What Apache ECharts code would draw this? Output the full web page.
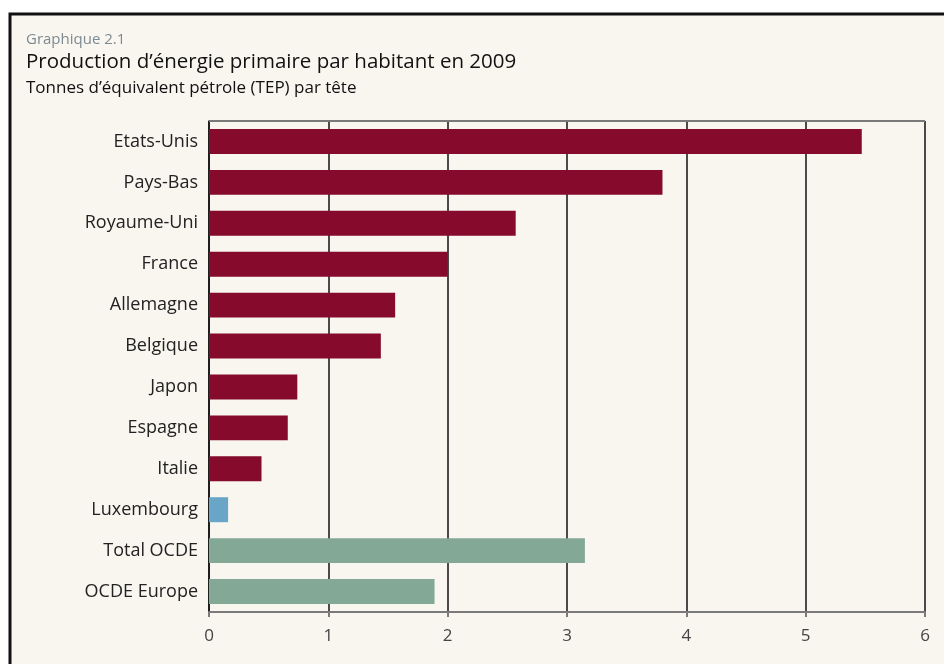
<!DOCTYPE html>
<html lang="fr">
<head>
<meta charset="UTF-8">
<script src="https://cdn.jsdelivr.net/npm/echarts@6/dist/echarts.min.js"></script>
<style>
  html, body { margin: 0; padding: 0; background: #ffffff; }
  #chart { width: 944px; height: 664px; }
</style>
</head>
<body>
<div id="chart"></div>
<script>
// pays, du haut vers le bas
var pays = ['Etats-Unis', 'Pays-Bas', 'Royaume-Uni', 'France', 'Allemagne', 'Belgique',
            'Japon', 'Espagne', 'Italie', 'Luxembourg', 'Total OCDE', 'OCDE Europe'];
// TEP par tête
var valeurs = [5.47, 3.80, 2.57, 2.00, 1.56, 1.44, 0.74, 0.66, 0.44, 0.16, 3.15, 1.89];
// groupe de couleur : 0 = pays, 1 = Luxembourg, 2 = agrégats OCDE
var groupes = [0, 0, 0, 0, 0, 0, 0, 0, 0, 1, 2, 2];
var couleurs = ['#850a2b', '#69a5c6', '#83a996'];
var ticks = [0, 1, 2, 3, 4, 5, 6];

var chart = echarts.init(document.getElementById('chart'));
var police = '"Open Sans", Roboto, sans-serif';

var option = {
  animation: false,
  backgroundColor: '#ffffff',
  textStyle: { fontFamily: police },
  graphic: [
    {
      type: 'rect', z: -10,
      shape: { x: 10, y: 14, width: 960, height: 700 },
      style: { fill: '#f9f6f0', stroke: '#111', lineWidth: 3 }
    },
    {
      type: 'text', left: 26, top: 32,
      style: { text: 'Graphique 2.1', fill: '#7d8a92', fontSize: 15, fontFamily: police }
    },
    {
      type: 'text', left: 26, top: 52,
      style: { text: 'Production d\u2019énergie primaire par habitant en 2009', fill: '#111', fontSize: 20.5, fontFamily: police }
    },
    {
      type: 'text', left: 26, top: 80,
      style: { text: 'Tonnes d\u2019équivalent pétrole (TEP) par tête', fill: '#111', fontSize: 17, fontFamily: police }
    },
    {
      // trait supérieur du cadre du graphique
      type: 'line', z: 5,
      shape: { x1: 209, y1: 121, x2: 925, y2: 121 },
      style: { stroke: '#7a7a7a', lineWidth: 2 }
    }
  ],
  grid: { left: 209, right: 19, top: 121, bottom: 52, containLabel: false },
  xAxis: {
    type: 'value',
    min: 0, max: 6, interval: 1,
    axisLine: { show: true, lineStyle: { color: '#7a7a7a', width: 2 } },
    axisTick: { show: true, length: 5, lineStyle: { color: '#7a7a7a', width: 2 } },
    axisLabel: {
      color: '#444', fontSize: 17, margin: 16,
      formatter: function (v) { return ticks.indexOf(v) >= 0 ? String(v) : ''; }
    },
    splitLine: { show: true, lineStyle: { color: '#111', width: 1.5 } }
  },
  yAxis: {
    type: 'category',
    data: pays,
    inverse: true,
    axisLine: { show: true, lineStyle: { color: '#111', width: 1.5 } },
    axisTick: { show: false },
    axisLabel: { color: '#222', fontSize: 18, margin: 11 }
  },
  series: [{
    type: 'bar',
    barWidth: '61%',
    data: valeurs.map(function (v, i) {
      return { value: v, itemStyle: { color: couleurs[groupes[i]] } };
    })
  }]
};

chart.setOption(option);
</script>
</body>
</html>
